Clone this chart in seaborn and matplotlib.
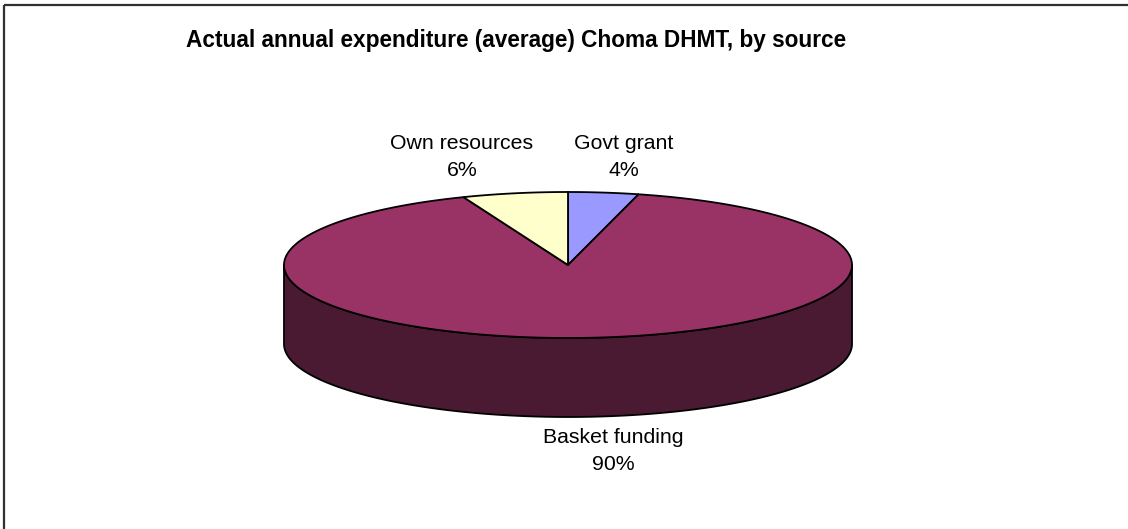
import numpy as np
import matplotlib
matplotlib.use("Agg")
import matplotlib.pyplot as plt
import seaborn as sns
from matplotlib.patches import Polygon

# Funding sources, in clockwise order starting from 12 o'clock
categories = ["Govt grant", "Basket funding", "Own resources"]
shares = [4, 90, 6]
top_colors = ["#9999FF", "#993366", "#FFFFCC"]
side_colors = ["#4D4D80", "#4A1A33", "#80806A"]

title = "Actual annual expenditure (average) Choma DHMT, by source"

sns.set_theme(style="white")
plt.rcParams["font.family"] = ["Liberation Sans", "DejaVu Sans"]

fig = plt.figure(figsize=(11.28, 5.29), dpi=100)
ax = fig.add_axes([0, 0, 1, 1])
ax.set_xlim(0, 1128)
ax.set_ylim(529, 0)
ax.axis("off")

# Chart-area frame (top and left edges)
ax.plot([3.5, 1128], [4.5, 4.5], color="#303030", lw=1.6, solid_capstyle="butt")
ax.plot([3.5, 3.5], [4.5, 529], color="#303030", lw=1.6, solid_capstyle="butt")

# Tilted pie geometry
cx, cy, rx, ry, depth = 568, 265, 284, 73, 79


def ellipse_pts(a0, a1, dy=0.0, n=200):
    t = np.linspace(a0, a1, n)
    return np.column_stack([cx + rx * np.sin(t), cy - ry * np.cos(t) + dy])


total = float(sum(shares))
bounds = np.concatenate([[0.0], np.cumsum(shares) / total * 2 * np.pi])

# Outer walls: only the front half (angles between 90 and 270 deg) is visible
for i in range(len(shares)):
    lo = max(bounds[i], np.pi / 2)
    hi = min(bounds[i + 1], 3 * np.pi / 2)
    if hi <= lo:
        continue
    top = ellipse_pts(lo, hi)
    bot = ellipse_pts(lo, hi, dy=depth)[::-1]
    ax.add_patch(Polygon(np.vstack([top, bot]), closed=True,
                         facecolor=side_colors[i], edgecolor="black",
                         lw=1.3, joinstyle="round", zorder=2))

# Top faces
for i in range(len(shares)):
    arc = ellipse_pts(bounds[i], bounds[i + 1])
    poly = np.vstack([[cx, cy], arc])
    ax.add_patch(Polygon(poly, closed=True, facecolor=top_colors[i],
                         edgecolor="black", lw=1.3, joinstyle="miter",
                         zorder=3))

# Category labels with percentage of the total
label_pos = [(624, 157), (613, 451), (462, 157)]
for name, v, (lx, ly) in zip(categories, shares, label_pos):
    ax.text(lx, ly, f"{name}\n{v / total:.0%}", ha="center", va="center",
            fontsize=15.3, color="black", linespacing=1.47, zorder=4)

ax.text(516, 47, title, ha="center", va="baseline", fontsize=16.3,
        fontweight="bold", color="black")

fig.savefig("out.png", dpi=100, facecolor="white")
